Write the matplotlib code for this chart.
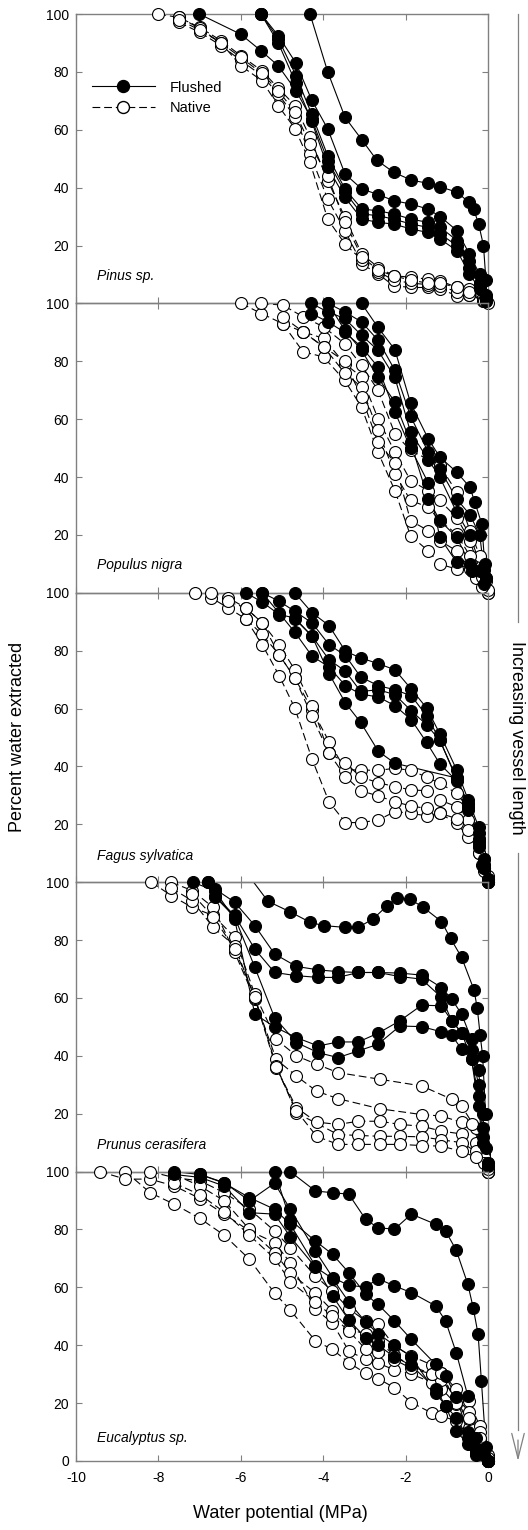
import numpy as np
import matplotlib
matplotlib.use("Agg")
import matplotlib.pyplot as plt
from matplotlib.lines import Line2D

plt.rcParams['font.family'] = ['Liberation Sans', 'DejaVu Sans']
plt.rcParams['axes.unicode_minus'] = False

# ---------------- data (water potential MPa, percent water extracted) ----------------
# Pinus sp.
pinus_fl_x = [
    [-4.32, -3.89, -3.47, -3.06, -2.70, -2.29, -1.86, -1.46, -1.16, -0.75, -0.46, -0.35, -0.23, -0.11, -0.05],
    [-7.01, -6.0, -5.51, -5.09, -4.66, -4.28, -3.89, -3.47, -3.06, -2.66, -2.29, -1.86, -1.46, -1.16, -0.75, -0.45, -0.2, -0.05],
    [-5.51, -5.09, -4.66, -4.28, -3.89, -3.47, -3.06, -2.66, -2.29, -1.86, -1.46, -1.16, -0.75, -0.45, -0.2, -0.05],
    [-5.51, -5.09, -4.66, -4.28, -3.89, -3.47, -3.06, -2.66, -2.29, -1.86, -1.46, -1.16, -0.75, -0.45, -0.2, -0.05],
    [-5.51, -5.09, -4.66, -4.28, -3.89, -3.47, -3.06, -2.66, -2.29, -1.86, -1.46, -1.16, -0.75, -0.45, -0.2, -0.05],
]
pinus_fl_y = [
    [100, 80, 64.3, 56.5, 49.5, 45.3, 42.6, 41.5, 40.3, 38.4, 34.9, 32.6, 27.6, 20, 8],
    [100, 93, 87.3, 82.1, 73.5, 63.7, 49.3, 38.4, 30.9, 30.3, 29.1, 27.4, 26.3, 24, 19.9, 12.4, 6, 1],
    [100, 92.5, 83, 70.3, 60.3, 44.7, 39.5, 37.6, 35.5, 34.3, 32.6, 30, 25.1, 17, 10, 3],
    [100, 91.4, 78.7, 65.4, 51, 39.5, 32.6, 32, 30.9, 29.1, 28, 26.3, 21.7, 14.7, 7, 2],
    [100, 90, 76, 63, 47, 36.6, 29.1, 28, 27.4, 25.7, 24.5, 22.2, 18.2, 10.1, 5, 1],
]
pinus_nat_x = [
    [-8.0, -7.5, -7.0, -6.48, -6.0, -5.49, -5.09, -4.68, -4.32, -3.89, -3.47, -3.06, -2.66, -2.29, -1.86, -1.46, -1.16, -0.75, -0.45, -0.12, 0],
    [-7.5, -7.0, -6.48, -6.0, -5.49, -5.09, -4.68, -4.32, -3.89, -3.47, -3.06, -2.66, -2.29, -1.86, -1.46, -1.16, -0.75, -0.45, -0.12],
    [-7.5, -7.0, -6.48, -6.0, -5.49, -5.09, -4.68, -4.32, -3.89, -3.47, -3.06, -2.66, -2.29, -1.86, -1.46, -1.16, -0.75, -0.45, -0.1],
    [-7.5, -7.0, -6.48, -6.0, -5.49, -5.09, -4.68, -4.32, -3.89, -3.47, -3.06, -2.66, -2.29, -1.86, -1.46, -1.16, -0.75, -0.45, -0.1],
]
pinus_nat_y = [
    [100, 98.8, 95.4, 90.8, 85.6, 80.4, 74.4, 68.3, 57.4, 42.4, 29.7, 17, 12.4, 9.6, 9, 8.4, 7.8, 5.5, 5, 2, 0],
    [97.1, 93.7, 89.1, 84, 78.7, 72.4, 64.3, 51.6, 36, 25.1, 13.6, 10.1, 6.1, 5.5, 5.5, 5, 2.6, 3, 1],
    [99, 95, 90, 82.1, 77, 68.3, 60.3, 48.7, 29.1, 20.5, 15, 11, 8, 7, 6.5, 6, 4, 3, 1],
    [98, 94.5, 90, 85, 79.5, 73.5, 66, 55, 44, 28, 16, 11.5, 9.5, 8, 7, 7, 5.5, 4, 1],
]

# Populus nigra
populus_fl_x = [
    [-3.07, -2.67, -2.26, -1.88, -1.45, -1.17, -0.76, -0.44, -0.32, -0.15, -0.08],
    [-3.88, -3.48, -3.07, -2.67, -2.26, -1.88, -1.45, -1.17, -0.76, -0.44, -0.2, -0.1],
    [-4.29, -3.88, -3.48, -3.07, -2.67, -2.26, -1.88, -1.45, -1.17, -0.76, -0.44, -0.15, -0.05],
    [-3.88, -3.48, -3.07, -2.67, -2.26, -1.88, -1.45, -1.17, -0.76, -0.44, -0.2, -0.05],
    [-4.29, -3.88, -3.48, -3.07, -2.67, -2.26, -1.88, -1.45, -1.17, -0.76, -0.4, -0.1],
]
populus_fl_y = [
    [100, 91.7, 84, 65.6, 53.2, 46.9, 41.7, 36.5, 31.3, 23.8, 10],
    [100, 97.1, 93.6, 87.3, 76.9, 61, 48.6, 42.8, 32.4, 27, 20, 8],
    [100, 97, 94.8, 89, 83.8, 74.4, 55.5, 46, 40, 27.8, 20, 8, 5],
    [100, 90.8, 83.8, 74.4, 65.9, 52.1, 32.4, 25, 19.2, 10, 7.6, 5],
    [96.5, 93.6, 90, 85, 78, 62.5, 50, 38, 19.2, 10.5, 7.6, 3],
]
populus_nat_x = [
    [-5.99, -5.50, -4.98, -4.49, -3.99, -3.48, -3.07, -2.67, -2.26, -1.88, -1.45, -1.17, -0.76, -0.44, -0.2, 0],
    [-5.50, -4.98, -4.49, -3.99, -3.48, -3.07, -2.67, -2.26, -1.88, -1.17, -0.76, -0.44, -0.2, -0.05],
    [-4.98, -4.49, -3.99, -3.48, -3.07, -2.67, -2.26, -1.88, -1.45, -1.17, -0.76, -0.3, 0],
    [-4.98, -4.49, -3.99, -3.48, -3.07, -2.67, -2.26, -1.88, -1.45, -1.17, -0.76, -0.44, -0.15, 0],
    [-4.49, -3.99, -3.48, -3.07, -2.67, -2.26, -1.88, -1.45, -1.17, -0.76, -0.44, -0.15],
]
populus_nat_y = [
    [100, 96.5, 93, 90.2, 87.9, 79.2, 74.6, 60.2, 48.6, 38.8, 35.3, 31.9, 26, 18, 8, 0],
    [100, 99.4, 95.4, 91.9, 86.1, 78.6, 70, 55, 49.2, 44, 34.8, 21.5, 12.8, 4],
    [93, 83.3, 81.5, 73.4, 64.2, 48.6, 35.3, 19.7, 14.5, 9.9, 8.2, 5, 0],
    [95.4, 90.2, 85, 76, 71.1, 56.1, 41.1, 31.9, 29.6, 24.9, 20.3, 12.8, 5.3, 1],
    [90.2, 85, 80, 67.7, 52, 45, 24.9, 21.5, 18, 14.5, 8.2, 2],
]

# Fagus sylvatica
fagus_fl_x = [
    [-4.69, -4.27, -3.86, -3.46, -3.09, -2.66, -2.26, -1.86, -1.49, -1.17, -0.76, -0.48, -0.23, -0.1, 0],
    [-5.48, -5.07, -4.69, -4.27, -3.86, -3.46, -3.09, -2.66, -2.26, -1.86, -1.49, -1.17, -0.76, -0.48, -0.23, -0.1, 0],
    [-5.88, -5.48, -5.07, -4.69, -4.27, -3.86, -3.46, -3.09, -2.66, -2.26, -1.86, -1.49, -1.17, -0.76, -0.48, -0.23, -0.1, 0],
    [-5.48, -5.07, -4.69, -4.27, -3.86, -3.46, -3.09, -2.66, -2.26, -1.86, -1.49, -1.17, -0.76, -0.48, -0.23, -0.15, 0],
    [-4.69, -4.27, -3.86, -3.46, -3.09, -2.66, -2.26, -0.76, -0.48, -0.23, -0.1, 0],
]
fagus_fl_y = [
    [100, 93.1, 88.7, 79.8, 77.5, 75.5, 73.4, 66.7, 60.2, 51.3, 38.8, 28.4, 19.2, 8, 0],
    [100, 97.1, 93.6, 89.6, 82.1, 78.3, 70.9, 67.9, 66.5, 64.4, 57.5, 49.2, 35.6, 27, 17, 6, 1],
    [100, 96.8, 92.5, 91.3, 85, 76.9, 72.9, 65.9, 66.5, 64.8, 59.2, 54.4, 49, 36, 26, 15, 5, 0],
    [100, 93, 86.4, 78.1, 74.4, 67.9, 65, 64, 61, 56.1, 48.3, 40.9, 35, 25, 12.2, 5.9, 0.7],
    [91, 85, 72.1, 61.9, 55.2, 45.2, 41.1, 36, 27, 14, 5, 0],
]
fagus_nat_x = [
    [-7.12, -6.72, -6.31, -5.88, -5.48, -5.07, -4.69, -4.27, -3.86, -3.46, -3.09, -2.66, -2.26, -1.86, -1.49, -1.17, -0.76, -0.48, -0.23, -0.1, 0],
    [-6.72, -6.31, -5.88, -5.48, -5.07, -4.69, -4.27, -3.86, -3.46, -3.09, -2.66, -2.26, -1.86, -1.49, -1.17, -0.76, -0.48, -0.23, -0.1, 0],
    [-5.88, -5.48, -5.07, -4.69, -4.27, -3.86, -3.46, -3.09, -2.66, -2.26, -1.86, -1.49, -1.17, -0.76, -0.48, -0.23, -0.1, 0],
    [-6.31, -5.88, -5.48, -5.07, -4.69, -4.27, -3.86, -3.46, -3.09, -2.66, -2.26, -1.86, -1.49, -1.17, -0.76, -0.48, -0.23, -0.1, 0],
]
fagus_nat_y = [
    [100, 98.3, 94.8, 91, 85.6, 78.6, 70.6, 59.6, 48.6, 38.8, 38.8, 38.6, 39.4, 38.6, 36.3, 34.2, 30.7, 25.5, 15, 8, 2],
    [100, 98.3, 94.8, 89.6, 82.1, 73.4, 61, 44.6, 41.3, 36.3, 34.4, 33, 31.9, 31.6, 28.4, 26.1, 21.5, 13, 6, 1],
    [91, 82.1, 71.4, 60.2, 42.5, 27.8, 20.6, 20.6, 21.5, 24.4, 23.8, 22.9, 23.8, 20.3, 15.7, 10, 5, 0],
    [97, 94.8, 89.6, 78.6, 70.6, 57.3, 44.6, 36.5, 31.6, 29.8, 27.8, 26.3, 25.5, 23.8, 22, 18, 10, 4, 0],
]

# Prunus cerasifera
prunus_fl_x = [
    [-5.9, -5.34, -4.81, -4.31, -3.99, -3.48, -3.15, -2.79, -2.46, -2.22, -1.90, -1.57, -1.13, -0.91, -0.64, -0.34, -0.26, -0.19, -0.13, -0.06],
    [-6.80, -6.63, -6.15, -5.66, -5.18, -4.65, -4.12, -3.64, -3.15, -2.67, -2.14, -1.61, -1.13, -0.88, -0.64, -0.40, -0.23, -0.13, -0.05],
    [-6.63, -6.15, -5.66, -5.18, -4.65, -4.12, -3.64, -3.15, -2.67, -2.14, -1.61, -1.13, -0.88, -0.64, -0.40, -0.23, -0.13, 0],
    [-7.16, -6.63, -6.15, -5.66, -5.18, -4.65, -4.12, -3.64, -3.15, -2.67, -2.14, -1.61, -1.13, -0.88, -0.64, -0.40, -0.23, -0.13, 0],
    [-6.80, -6.63, -6.15, -5.66, -5.18, -4.65, -4.12, -3.64, -3.15, -2.67, -2.14, -1.61, -1.13, -0.88, -0.64, -0.40, -0.23, -0.13, 0],
]
prunus_fl_y = [
    [104, 93.4, 89.8, 86.1, 85, 84.4, 84.4, 87.3, 91.7, 94.5, 94.2, 91.3, 86.4, 80.6, 74, 62.8, 56.4, 47.1, 40, 20],
    [100, 97.7, 93.1, 85, 75.2, 70.9, 69.7, 69.1, 68.8, 68.8, 68.6, 67.9, 63.6, 59.6, 54.4, 45.7, 35, 20, 8],
    [95.4, 88.5, 76.9, 68.8, 67.7, 67.1, 67.1, 68.8, 68.8, 67.4, 66.5, 60.2, 52.1, 48, 38.8, 26.1, 12, 3],
    [100, 97, 87.3, 54.4, 50, 46.3, 43.4, 44.8, 44.8, 47.8, 52.1, 57.5, 57.3, 52.1, 48, 42, 30, 15, 3],
    [100, 95, 88, 70.6, 53.2, 44.6, 41.1, 39.4, 41.7, 44, 50.3, 50.1, 48.3, 47.1, 42.3, 38.8, 22.6, 9.9, 2],
]
prunus_nat_x = [
    [-8.17, -7.69, -7.18, -6.67, -6.15, -5.66, -5.14, -4.65, -4.16, -3.64, -2.62, -1.61, -0.88, -0.64, -0.3, -0.1, 0],
    [-7.69, -7.18, -6.67, -6.15, -5.66, -5.14, -4.65, -4.16, -3.64, -2.62, -1.61, -1.13, -0.64, -0.4, -0.15, 0],
    [-7.69, -7.18, -6.67, -6.15, -5.66, -5.14, -4.65, -4.16, -3.64, -3.15, -2.62, -2.14, -1.61, -1.13, -0.64, -0.3, -0.1, 0],
    [-7.18, -6.67, -6.15, -5.66, -5.14, -4.65, -3.64, -3.15, -2.62, -2.14, -1.61, -1.13, -0.64, -0.3, -0.1, 0],
    [-5.14, -4.65, -4.16, -3.64, -3.15, -2.62, -2.14, -1.61, -1.13, -0.64, -0.3, 0],
]
prunus_nat_y = [
    [100, 95.4, 91.3, 88.5, 81, 61.3, 45.7, 40, 37.1, 34.2, 31.9, 29.6, 25, 22.6, 15, 6, 0],
    [100, 97.1, 91.3, 75.8, 59.6, 38.8, 33, 27.8, 25.2, 21.7, 19.7, 19.2, 17, 16.3, 8, 0],
    [98, 93.6, 84.4, 78, 60, 35.9, 22.1, 17.1, 16.3, 17.4, 17.4, 16.3, 15.7, 14, 13, 10, 5, 0],
    [96, 88, 77, 60.5, 36.5, 20.3, 12.8, 12.5, 12.2, 12.2, 12, 11, 10, 7, 3, 0],
    [36, 21, 12.2, 9.4, 9.4, 9.4, 9.4, 9, 8.8, 7, 5, 1],
]

# Eucalyptus sp.
euc_fl_x = [
    [-4.80, -4.19, -3.77, -3.38, -2.97, -2.67, -2.27, -1.86, -1.27, -1.03, -0.77, -0.49, -0.36, -0.24, -0.16, -0.05, 0],
    [-6.99, -6.40, -5.79, -5.18, -4.80, -4.19, -3.77, -3.38, -2.97, -2.67, -2.27, -1.86, -1.27, -1.03, -0.77, -0.49, -0.3, -0.1, 0],
    [-5.18, -4.80, -4.19, -3.77, -3.38, -2.97, -2.67, -2.27, -1.86, -1.27, -1.03, -0.77, -0.49, -0.3, 0],
    [-7.61, -6.99, -6.40, -5.79, -5.18, -4.80, -4.19, -3.77, -3.38, -2.97, -2.67, -2.27, -1.86, -1.27, -1.03, -0.77, -0.49, -0.3, 0],
    [-7.61, -6.99, -6.40, -5.79, -5.18, -4.80, -4.19, -3.77, -3.38, -2.97, -2.67, -2.27, -1.86, -1.27, -1.03, -0.77, -0.49, -0.3, 0],
]
euc_fl_y = [
    [100, 93.3, 92.7, 92.2, 83.5, 80.6, 80.1, 85.3, 81.8, 79.5, 72.8, 61.1, 53, 43.8, 27.6, 5, 0],
    [99, 96.2, 89.9, 96, 87, 72.6, 63.4, 60.7, 60.1, 63, 60.5, 58.2, 53.6, 48.4, 37.4, 22.5, 8, 2, 0],
    [100, 83.3, 76, 71.4, 65.1, 57.6, 54.1, 48.4, 42, 33.4, 29.4, 22, 10, 4, 0],
    [100, 99, 96, 91, 87, 81.8, 67.4, 57, 48.7, 42.6, 40, 36, 33, 25, 19, 10.4, 5.8, 2, 0],
    [99, 98, 95, 85.8, 85.3, 77.5, 67, 63, 55, 48, 44, 40, 36, 23.6, 19, 15, 8, 3, 0],
]
euc_nat_x = [
    [-8.80, -8.20, -7.61, -6.99, -6.40, -5.79, -5.18, -4.80, -4.19, -3.78, -3.38, -2.97, -2.67, -2.27, -1.86, -1.35, -1.13, -0.77, -0.46, -0.2, 0],
    [-9.42, -8.80, -8.20, -7.61, -6.99, -6.40, -5.79, -5.18, -4.80, -4.19, -3.78, -3.38, -2.97, -2.67, -2.27, -1.86, -1.35, -1.13, -0.77, -0.46, -0.2, 0],
    [-8.20, -7.61, -6.99, -6.40, -5.79, -5.18, -4.80, -4.19, -3.78, -3.38, -2.97, -2.67, -2.27, -1.86, -1.35, -1.13, -0.77, -0.46, -0.2, 0],
    [-7.61, -6.99, -6.40, -5.79, -5.18, -4.80, -4.19, -3.78, -3.38, -2.97, -2.67, -2.27, -1.86, -1.35, -1.13, -0.77, -0.46, -0.2, 0],
    [-7.61, -6.99, -6.40, -5.79, -5.18, -4.80, -4.19, -3.78, -3.38, -2.97, -2.67, -2.27, -1.86, -1.35, -1.13, -0.77, -0.46, -0.2, 0],
]
euc_nat_y = [
    [100, 92.7, 88.7, 83.8, 78, 69.7, 58, 52.2, 41.5, 38.6, 34, 30.3, 28.5, 25.3, 20.2, 16.5, 15.6, 13.8, 11.5, 7.5, 0],
    [100, 97.4, 97.4, 95, 90.7, 85.3, 79.5, 75.5, 68.5, 52.4, 47.8, 38, 35.1, 33.8, 31.5, 30, 27.1, 25, 19.6, 14.4, 7, 0],
    [100, 97.9, 96.8, 92.7, 87, 79.5, 73.7, 63.9, 58.8, 52.6, 48.4, 47.2, 39.7, 36.3, 33.1, 30.5, 24.8, 20.7, 12, 2],
    [99, 95, 89.9, 80, 72, 65, 58, 52, 45.7, 43.8, 41.5, 36.5, 32.8, 30, 28, 22, 17, 10, 1],
    [96, 92, 86, 78, 70, 62, 55, 50, 45, 38.6, 37.7, 35, 32, 30, 30.5, 20, 15, 8, 0],
]

species = ["Pinus sp.", "Populus nigra", "Fagus sylvatica", "Prunus cerasifera", "Eucalyptus sp."]
label_y = [9.5, 9.5, 9.0, 9.3, 8.0]

panels = [
    (pinus_fl_x, pinus_fl_y, pinus_nat_x, pinus_nat_y),
    (populus_fl_x, populus_fl_y, populus_nat_x, populus_nat_y),
    (fagus_fl_x, fagus_fl_y, fagus_nat_x, fagus_nat_y),
    (prunus_fl_x, prunus_fl_y, prunus_nat_x, prunus_nat_y),
    (euc_fl_x, euc_fl_y, euc_nat_x, euc_nat_y),
]

# ---------------- plotting ----------------
W, H = 528, 1530
fig = plt.figure(figsize=(W / 100, H / 100), dpi=100)

ax_left, ax_right = 76 / W, 488 / W
top_px, panel_px = 14, 289.4
grey = '#808080'
MS = 8.6
DASH = (0, (7, 3.5))


def draw_curves(ax, xs, ys, filled):
    for x, y in zip(xs, ys):
        x = np.asarray(x, float)
        y = np.asarray(y, float)
        ax.plot(x, y, color='k', lw=0.8, ls='-' if filled else DASH, zorder=2)
        keep = y <= 100
        ax.plot(x[keep], y[keep], ls='none', marker='o', ms=MS,
                mfc='k' if filled else 'w', mec='k', mew=0.8,
                clip_on=False, zorder=3)


for i, (fx, fy, nx, ny) in enumerate(panels):
    bottom = 1 - (top_px + (i + 1) * panel_px) / H
    ax = fig.add_axes([ax_left, bottom, ax_right - ax_left, panel_px / H])
    ax.patch.set_visible(False)

    draw_curves(ax, nx, ny, filled=False)
    draw_curves(ax, fx, fy, filled=True)

    ax.set_xlim(-10, 0)
    ax.set_ylim(0, 100)
    ax.set_xticks([-10, -8, -6, -4, -2, 0])
    if i == 4:
        ax.set_yticks([0, 20, 40, 60, 80, 100])
    else:
        ax.set_yticks([20, 40, 60, 80, 100])
        ax.tick_params(axis='x', labelbottom=False)
    ax.tick_params(direction='in', top=True, right=True, length=4,
                   color=grey, labelsize=10, width=0.8)
    ax.tick_params(axis='x', pad=7)
    ax.tick_params(axis='y', pad=5)
    for s in ax.spines.values():
        s.set_color(grey)
        s.set_linewidth(1.0)

    ax.text(-9.5, label_y[i], species[i], style='italic', fontsize=10,
            va='center', ha='left')

    if i == 0:
        h_fl = Line2D([], [], color='k', lw=0.8, marker='o', ms=MS, mfc='k', mec='k')
        h_nat = Line2D([], [], color='k', lw=0.8, ls=DASH, marker='o', ms=MS, mfc='w', mec='k')
        ax.legend([h_fl, h_nat], ['Flushed', 'Native'], loc='upper left',
                  bbox_to_anchor=(0.039, 0.77), frameon=False, fontsize=10.5,
                  handlelength=4.3, handletextpad=1.0, labelspacing=0.45,
                  borderpad=0, borderaxespad=0)

fig.text(18 / W, 1 - 737 / H, 'Percent water extracted', rotation=90,
         ha='center', va='center', fontsize=13)
fig.text(280 / W, 1 - 1513 / H, 'Water potential (MPa)',
         ha='center', va='center', fontsize=13)

# right-hand arrow with label
ax_x = 518 / W
fig.add_artist(Line2D([ax_x, ax_x], [1 - 14 / H, 1 - 622 / H],
                      color=grey, lw=0.9, transform=fig.transFigure))
fig.add_artist(Line2D([ax_x, ax_x], [1 - 853 / H, 1 - 1430 / H],
                      color=grey, lw=0.9, transform=fig.transFigure))
fig.patches.append(matplotlib.patches.FancyArrowPatch(
    (ax_x, 1 - 1440 / H), (ax_x, 1 - 1461 / H), transform=fig.transFigure,
    arrowstyle='->,head_length=1.8,head_width=0.45', color=grey, lw=0.9,
    mutation_scale=10, shrinkA=0, shrinkB=0))
fig.text(ax_x - 1 / W, 1 - 738 / H, 'Increasing vessel length', rotation=270,
         ha='center', va='center', fontsize=13)

fig.savefig('out.png', dpi=100)
plt.close(fig)
